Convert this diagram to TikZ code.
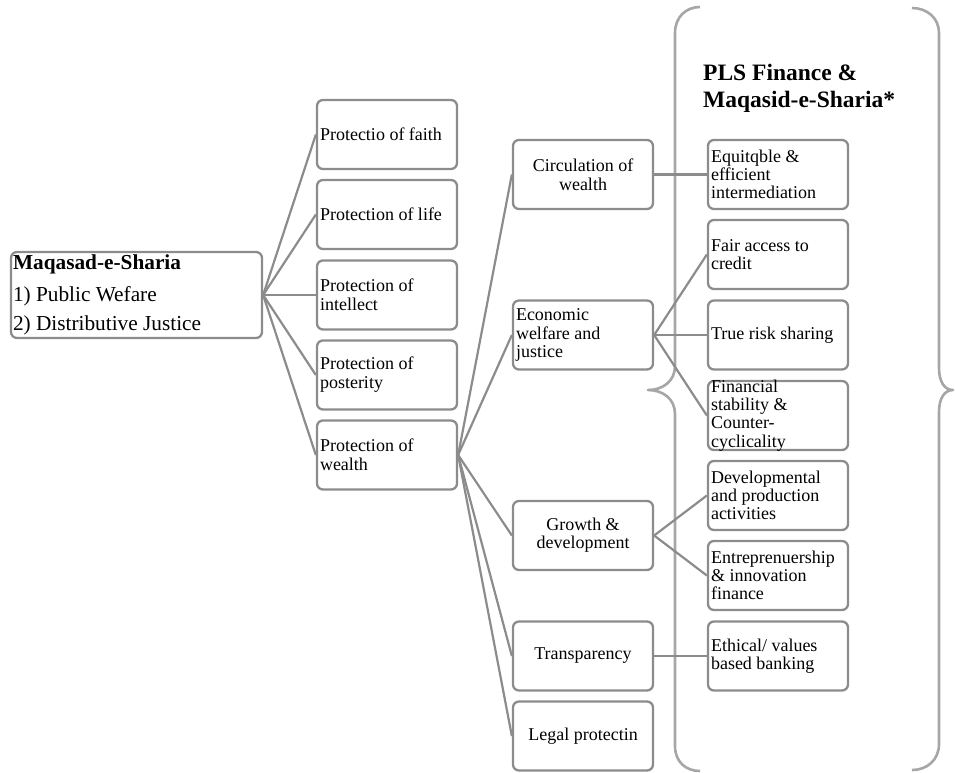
\documentclass[tikz,border=0pt]{standalone}
\usepackage{fontspec}
\setmainfont{Liberation Serif}
\definecolor{boxgray}{HTML}{8C8C8C}
\definecolor{bracegray}{HTML}{A6A6A6}
\newcommand{\txtL}[2][19]{\parbox[c][69pt][c]{134pt}{\raggedright\fontsize{18}{#1}\selectfont #2}}
\newcommand{\txtC}[2][19]{\parbox[c][69pt][c]{134pt}{\centering\fontsize{18}{#1}\selectfont #2}}
\tikzset{
  box/.style={draw=boxgray, line width=2.3pt, rounded corners=6pt, fill=white,
    inner sep=0pt, minimum width=140pt, minimum height=69pt},
  conn/.style={draw=boxgray, line width=2.2pt},
  bracepath/.style={draw=bracegray, line width=2.6pt},
  titletext/.style={inner sep=0pt, anchor=base west, font=\bfseries\fontsize{23.5}{28}\selectfont}
}
\begin{document}
\begin{tikzpicture}[x=1pt, y=-1pt, line join=round]
\useasboundingbox (0,0) rectangle (955,772);

% braces
\draw[bracepath] (700,7) .. controls (686,7) and (675,17) .. (675,33)
  -- (675,366) .. controls (675,381) and (663,390) .. (648,390)
  .. controls (663,390) and (675,399) .. (675,414)
  -- (675,746) .. controls (675,762) and (686,771) .. (700,771);
\draw[bracepath] (912,8) .. controls (927,8) and (939,18) .. (939,33)
  -- (939,368) .. controls (939,381) and (944,390) .. (953,390)
  .. controls (944,390) and (939,399) .. (939,412)
  -- (939,744) .. controls (939,760) and (927,770) .. (912,770);

% title
\node[titletext] (title1) at (703,80) {PLS Finance \&};
\node[titletext] (title2) at (703,107.7) {Maqasid-e-Sharia*};

% root
\node[box, minimum width=251pt, minimum height=86pt] (root) at (136.5,295)
  {\parbox[c][86pt][c]{247pt}{\raggedright\fontsize{21.3}{29}\selectfont
   {\bfseries Maqasad-e-Sharia}\\[2.5pt]1) Public Wefare\\2) Distributive Justice}};

% level 1
\node[box] (faith) at (387,134.5) {\txtL{Protectio of faith}};
\node[box] (life) at (387,214.5) {\txtL{Protection of life}};
\node[box] (intellect) at (387,295) {\txtL{Protection of\\intellect}};
\node[box] (posterity) at (387,375) {\txtL{Protection of\\posterity}};
\node[box] (wealth) at (387,455) {\txtL{Protection of\\wealth}};

% level 2
\node[box] (circ) at (583,174.5) {\txtC{Circulation of\\wealth}};
\node[box] (econ) at (583,335) {\txtL[18.3]{Economic\\welfare and\\justice}};
\node[box] (growth) at (583,535.5) {\txtC[18.3]{Growth \&\\development}};
\node[box] (transp) at (583,656) {\txtC{Transparency}};
\node[box] (legal) at (583,736) {\txtC{Legal protectin}};

% level 3
\node[box] (equit) at (778,174.5) {\txtL[18.3]{Equitqble \&\\efficient\\intermediation}};
\node[box] (fair) at (778,254.5) {\txtL[18.3]{Fair access to\\credit}};
\node[box] (risk) at (778,335) {\txtL[18.3]{True risk sharing}};
\node[box] (fin) at (778,415.5) {\txtL[18.3]{Financial\\stability \&\\Counter-\\cyclicality}};
\node[box] (dev) at (778,495.5) {\txtL[18.3]{Developmental\\and production\\activities}};
\node[box] (entre) at (778,575.5) {\txtL[18.3]{Entreprenuership\\\& innovation\\finance}};
\node[box] (ethic) at (778,656) {\txtL[18.3]{Ethical/ values\\based banking}};

% connectors
\foreach \t in {faith,life,intellect,posterity,wealth}
  \draw[conn] (root.east) -- (\t.west);
\foreach \t in {circ,econ,growth,transp,legal}
  \draw[conn] (wealth.east) -- (\t.west);
\draw[conn] (circ.east) -- (equit.west);
\foreach \t in {fair,risk,fin}
  \draw[conn] (econ.east) -- (\t.west);
\foreach \t in {dev,entre}
  \draw[conn] (growth.east) -- (\t.west);
\draw[conn] (transp.east) -- (ethic.west);
\end{tikzpicture}
\end{document}
